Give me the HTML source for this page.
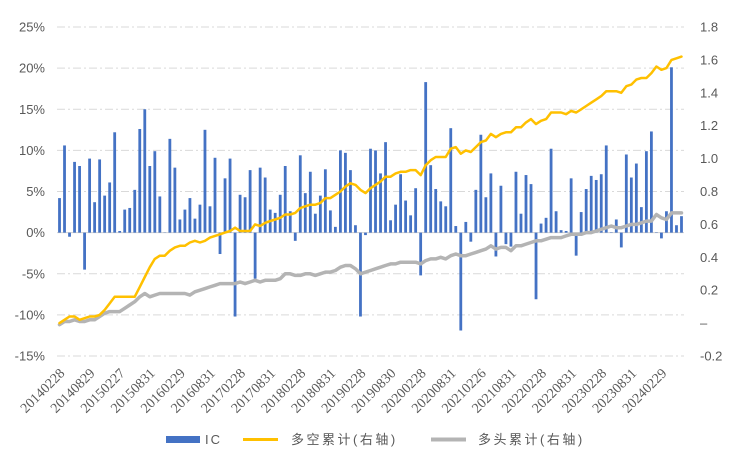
<!DOCTYPE html>
<html><head><meta charset="utf-8">
<style>
html,body{margin:0;padding:0;background:#fff;}
svg{display:block;}
text{font-family:"Liberation Sans","Noto Sans CJK SC",sans-serif;fill:#595959;}
</style></head>
<body>
<svg id="chart" width="741" height="456" viewBox="0 0 741 456" xmlns="http://www.w3.org/2000/svg">
<g id="grid"></g>
<g id="bars"></g>
<g id="lines"></g>
<g id="yleft"></g>
<g id="yright"></g>
<g id="xaxis"></g>
<g id="legend">
  <rect x="166" y="436" width="34" height="7" fill="#4472c4"/>
  <text x="205" y="444" font-size="13" letter-spacing="2">IC</text>
  <line x1="243" y1="439.5" x2="278" y2="439.5" stroke="#ffc000" stroke-width="3"/>
  <text x="291" y="444" font-size="13" letter-spacing="2.5">多空累计(右轴)</text>
  <line x1="431" y1="439.5" x2="466" y2="439.5" stroke="#b4b4b4" stroke-width="4"/>
  <text x="478" y="444" font-size="13" letter-spacing="2.5">多头累计(右轴)</text>
</g>
</svg>
<script>
const icValues = [4.2,10.6,-0.5,8.6,8.1,-4.5,9.0,3.7,8.9,4.5,6.1,12.2,0.2,2.8,3.0,5.2,12.6,15.0,8.1,9.9,4.4,0,11.4,7.9,1.6,2.8,4.2,1.7,3.4,12.5,3.2,9.1,-2.6,6.6,9.0,-10.2,4.6,4.3,7.6,-5.6,7.9,6.7,2.8,2.4,4.6,8.1,2.6,-1.0,9.4,4.8,7.4,2.3,4.5,7.7,2.7,0.7,10.0,9.7,7.6,0.9,-10.2,-0.3,10.2,10.0,7.2,11.0,1.5,3.4,7.1,3.9,2.1,5.4,-5.2,18.3,8.2,5.3,3.8,3.2,12.7,0.8,-11.9,1.3,-1.1,5.2,11.9,4.3,7.2,-2.9,5.7,-1.4,-1.7,7.4,2.3,7.0,5.9,-8.1,1.1,1.8,10.2,2.6,0.3,0.2,6.6,-2.8,2.5,5.3,6.9,6.4,7.1,10.6,0.05,1.6,-1.8,9.5,6.7,8.4,3.1,9.9,12.3,0.05,-0.7,2.6,20.1,0.9,2.0];
const longShortCum = [0.00,0.02,0.04,0.04,0.02,0.03,0.04,0.04,0.05,0.08,0.12,0.16,0.16,0.16,0.16,0.16,0.22,0.28,0.34,0.39,0.41,0.41,0.44,0.46,0.47,0.47,0.49,0.50,0.49,0.50,0.52,0.53,0.54,0.55,0.56,0.58,0.56,0.56,0.56,0.60,0.59,0.61,0.62,0.63,0.64,0.66,0.66,0.67,0.70,0.71,0.72,0.72,0.73,0.76,0.76,0.78,0.80,0.83,0.85,0.84,0.81,0.79,0.82,0.84,0.86,0.89,0.89,0.91,0.92,0.92,0.93,0.93,0.90,0.96,0.99,1.01,1.01,1.01,1.06,1.07,1.03,1.05,1.04,1.07,1.10,1.11,1.15,1.13,1.15,1.16,1.16,1.19,1.19,1.22,1.24,1.21,1.23,1.24,1.28,1.28,1.28,1.27,1.29,1.28,1.30,1.32,1.34,1.36,1.38,1.41,1.41,1.41,1.40,1.44,1.45,1.48,1.49,1.49,1.52,1.56,1.54,1.55,1.60,1.61,1.62];
const longCum = [-0.01,0.01,0.01,0.02,0.01,0.01,0.02,0.02,0.04,0.06,0.07,0.07,0.07,0.09,0.11,0.13,0.16,0.18,0.16,0.17,0.18,0.18,0.18,0.18,0.18,0.18,0.17,0.19,0.20,0.21,0.22,0.23,0.24,0.24,0.24,0.24,0.25,0.24,0.25,0.26,0.25,0.26,0.26,0.26,0.27,0.30,0.30,0.29,0.29,0.30,0.30,0.29,0.30,0.31,0.31,0.32,0.34,0.35,0.35,0.33,0.30,0.31,0.32,0.33,0.34,0.35,0.36,0.36,0.37,0.37,0.37,0.37,0.36,0.38,0.39,0.39,0.40,0.39,0.41,0.42,0.41,0.41,0.42,0.43,0.44,0.45,0.47,0.45,0.46,0.46,0.44,0.47,0.47,0.48,0.49,0.50,0.50,0.51,0.52,0.52,0.52,0.53,0.54,0.54,0.54,0.55,0.55,0.56,0.57,0.58,0.59,0.58,0.58,0.59,0.60,0.60,0.61,0.62,0.62,0.66,0.64,0.63,0.67,0.67,0.67];
const xTickLabels = ["20140228","20140829","20150227","20150831","20160229","20160831","20170228","20170831","20180228","20180831","20190228","20190830","20200228","20200831","20210226","20210831","20220228","20220831","20230228","20230831","20240229"];
const leftTicks = [25,20,15,10,5,0,-5,-10,-15];
const rightTicks = [1.8,1.6,1.4,1.2,1.0,0.8,0.6,0.4,0.2,0,-0.2];
const rightTickLabels = ["1.8","1.6","1.4","1.2","1.0","0.8","0.6","0.4","0.2","–","-0.2"];

const NS = "http://www.w3.org/2000/svg";
const X0 = 57, X1 = 684, Y_TOP = 27, Y_BOT = 356;
const n = icValues.length;
const step = (X1 - X0) / n;
function xPos(i){ return X0 + step * (i + 0.5); }
function yLeft(v){ return Y_TOP + (25 - v) / 40 * (Y_BOT - Y_TOP); }
function yRight(v){ return Y_TOP + (1.8 - v) / 2.0 * (Y_BOT - Y_TOP); }
function mk(tag, attrs, parent){
  const e = document.createElementNS(NS, tag);
  for (const k in attrs) e.setAttribute(k, attrs[k]);
  parent.appendChild(e);
  return e;
}
const grid = document.getElementById('grid');
const bars = document.getElementById('bars');
const lines = document.getElementById('lines');
const yl = document.getElementById('yleft');
const yr = document.getElementById('yright');
const xa = document.getElementById('xaxis');

leftTicks.forEach(function(t){
  const y = yLeft(t);
  const g = mk('line', {x1:X0, x2:X1, y1:y, y2:y, stroke: t===0 ? '#d0d0d0' : '#d9d9d9', 'stroke-width':1, 'stroke-dasharray': t===0 ? '' : '8,3,2,3'}, grid);
  
  
  const tx = mk('text', {x:45, y:y+4.5, 'text-anchor':'end', 'font-size':13}, yl);
  tx.textContent = t + '%';
  
  
});
rightTicks.forEach(function(t, k){
  const tx = mk('text', {x:700, y:yRight(t)+4.5, 'text-anchor':'start', 'font-size':13}, yr);
  tx.textContent = rightTickLabels[k];
  
  
});
for (let i = 0; i < n; i++){
  const v = icValues[i];
  const y0 = yLeft(0), y1 = yLeft(v);
  const r = mk('rect', {x: xPos(i) - 1.4, y: Math.min(y0, y1), width: 2.8, height: Math.max(Math.abs(y1 - y0), 0.3), fill:'#4472c4'}, bars);
  
  
}
function poly(arr, color, w, name){
  const pts = arr.map(function(v, i){ return xPos(i).toFixed(1) + ',' + yRight(v).toFixed(1); }).join(' ');
  const p = mk('polyline', {points: pts, fill:'none', stroke: color, 'stroke-width': w, 'stroke-linejoin':'round', 'stroke-linecap':'round'}, lines);
  
  
}
poly(longCum, '#b4b4b4', 3.5, 'long-cumulative-line');
poly(longShortCum, '#ffc000', 2.5, 'long-short-cumulative-line');
xTickLabels.forEach(function(lab, k){
  const i = k * 6;
  const x = xPos(i) + 6, y = 374;
  const t = mk('text', {x:x, y:y, 'text-anchor':'end', 'font-size':14, transform:'rotate(-45 ' + x + ' ' + y + ')', style:'font-family:"Liberation Serif",serif'}, xa);
  t.textContent = lab;
  
  
});
</script>
</body></html>
